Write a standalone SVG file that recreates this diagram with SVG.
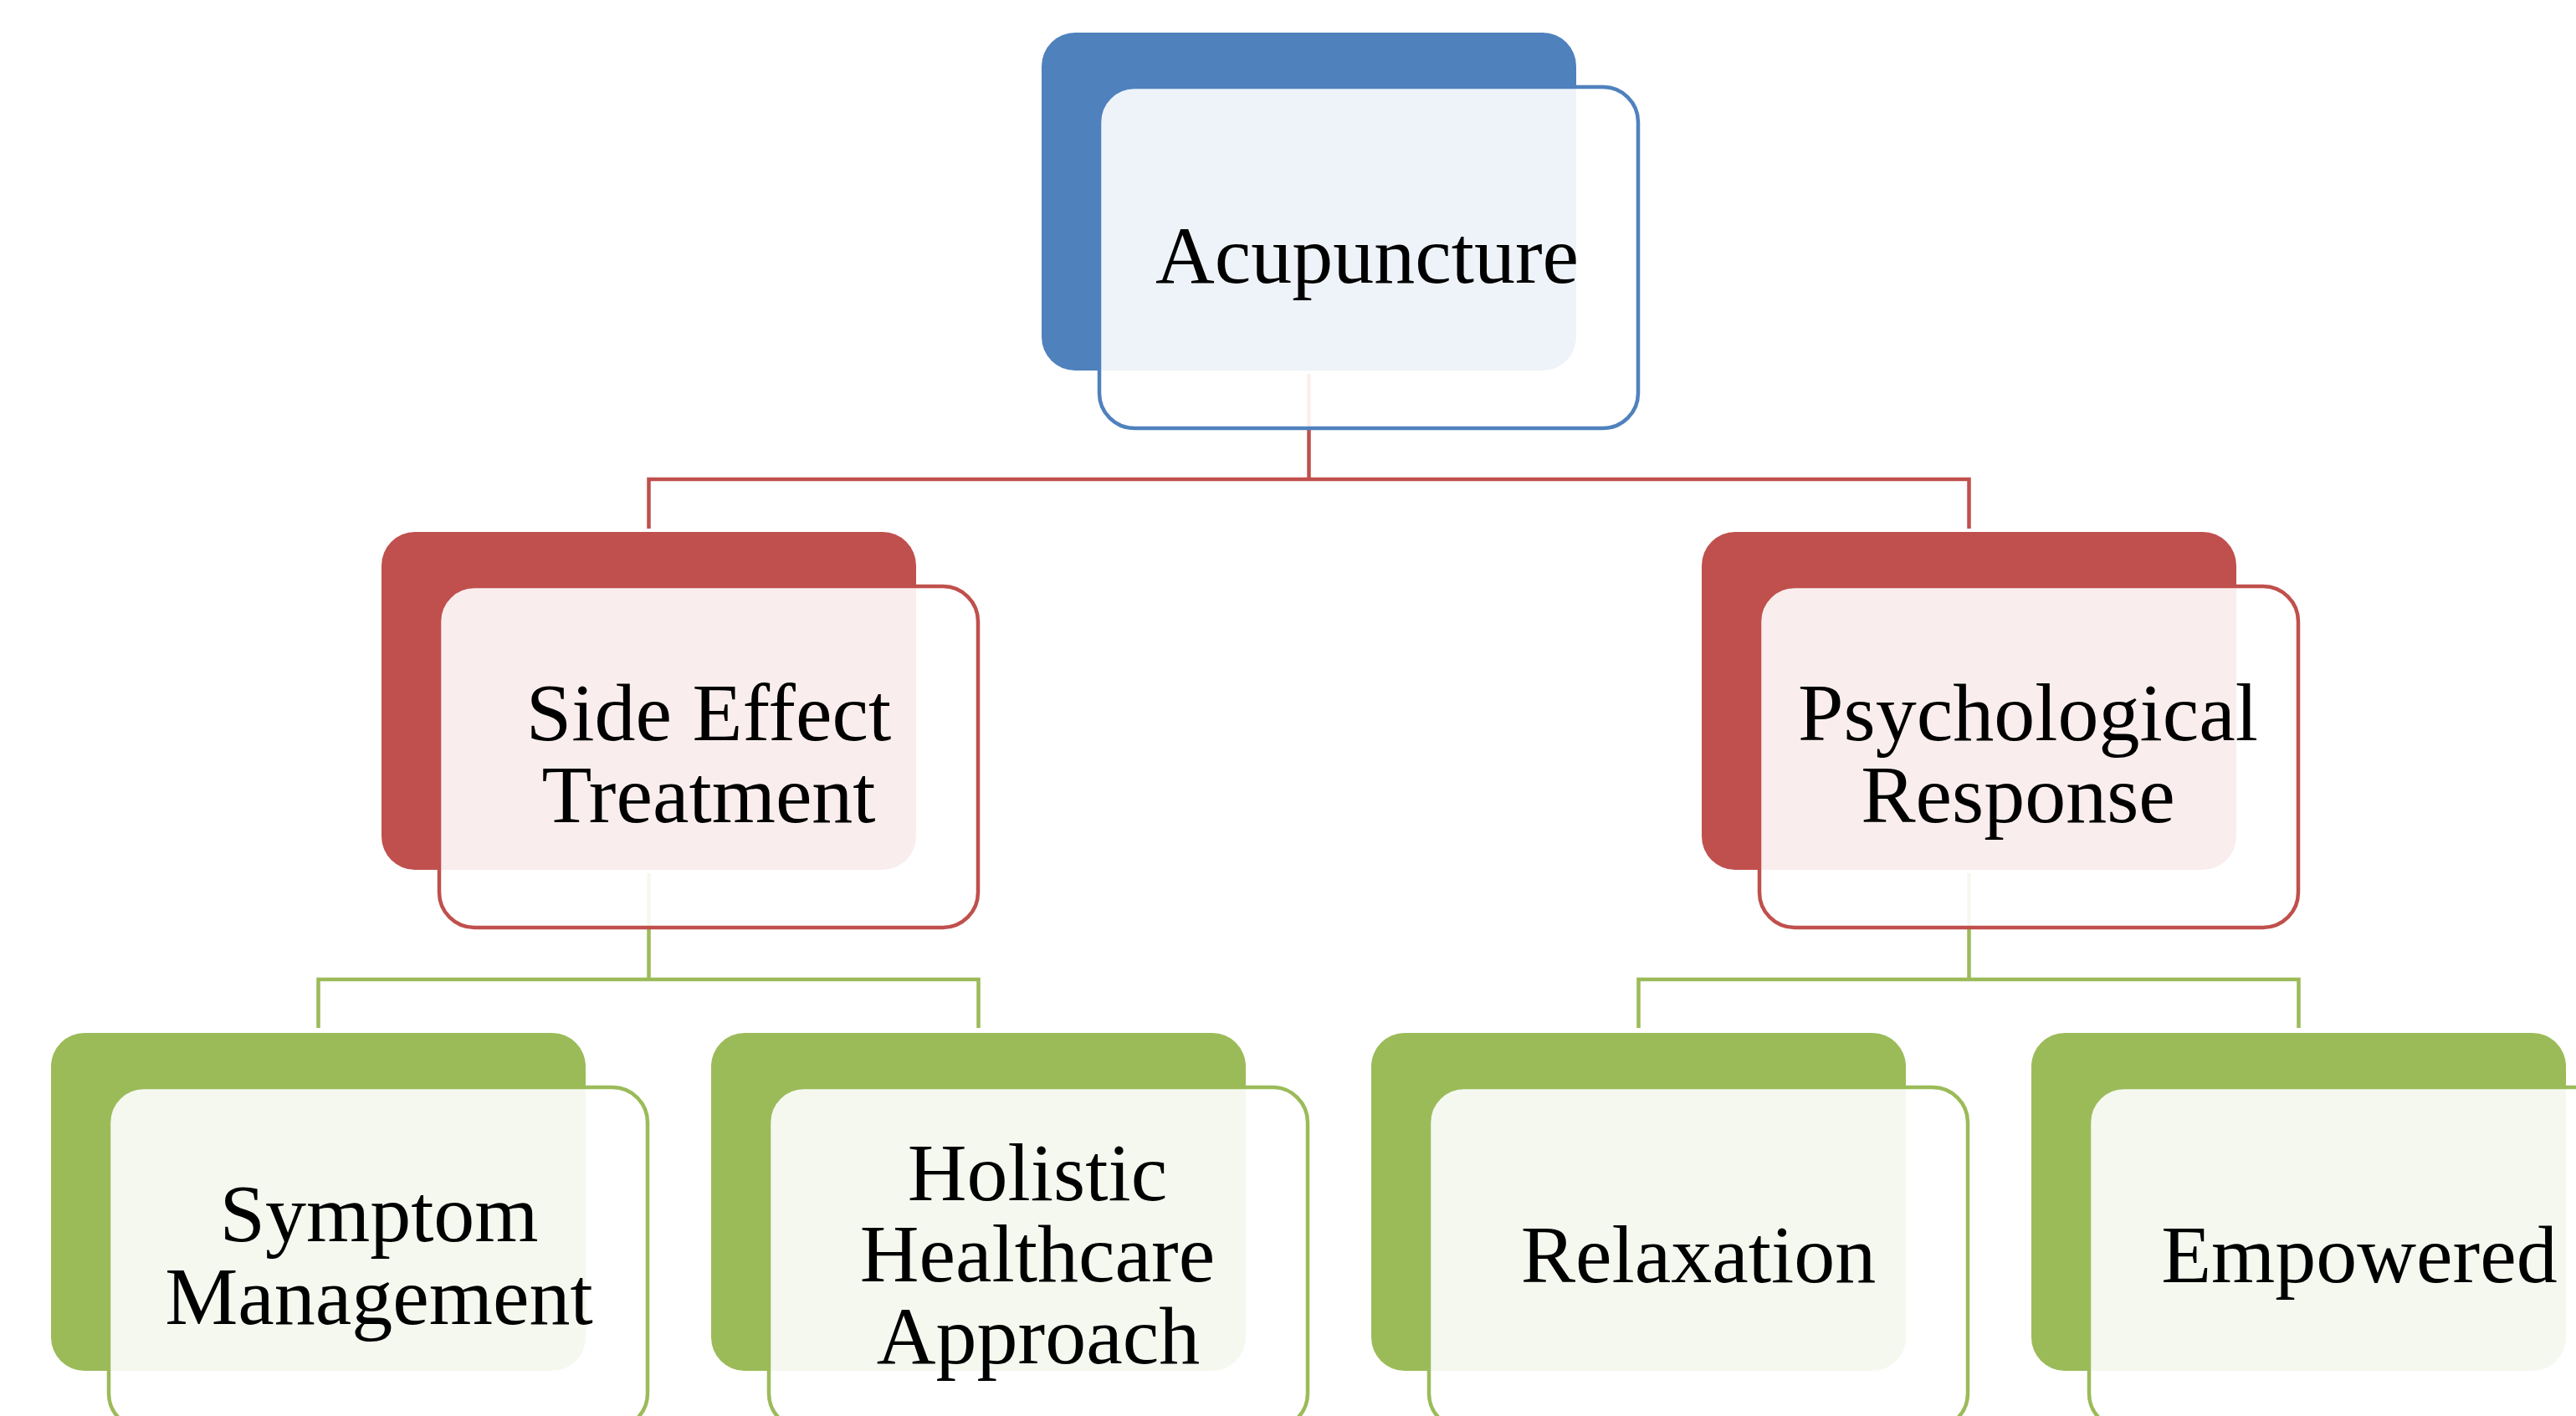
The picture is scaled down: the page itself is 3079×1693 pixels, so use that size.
<svg xmlns="http://www.w3.org/2000/svg" width="3079" height="1693" viewBox="0 0 3079 1693">
<style>
.bg{fill:#ffffff}
.back{stroke:none}
.front{fill:#ffffff;fill-opacity:0.9;stroke-width:4.5}
.blue .back{fill:#4F81BD}.blue .front{stroke:#4F81BD}
.red .back{fill:#C0504D}.red .front{stroke:#C0504D}
.green .back{fill:#9BBB59}.green .front{stroke:#9BBB59}
.lbl{font-family:"Liberation Serif","Times New Roman",serif;font-size:98px;fill:#000000;text-anchor:middle}
.conn{fill:none;stroke-width:4.5;stroke-linejoin:miter}
</style>
<rect class="bg" x="0" y="0" width="3079" height="1693"/>
<g id="connectors">
<path class="conn" stroke="#C0504D" d="M1564.5,447 V573 M775.5,632 V573 H2353.5 V632"/>
<path class="conn" stroke="#9BBB59" d="M775.5,1044 V1171 M380.5,1229 V1171 H1169.5 V1229"/>
<path class="conn" stroke="#9BBB59" d="M2353.5,1044 V1171 M1958.5,1229 V1171 H2747.5 V1229"/>
</g>
<g id="node-acupuncture" class="blue">
<rect class="back" x="1245" y="39" width="639" height="404" rx="40"/>
<rect class="front" x="1314" y="104" width="644" height="408" rx="42"/>
<text class="lbl" x="1634" y="338">Acupuncture</text>
</g>
<g id="node-side-effect" class="red">
<rect class="back" x="456" y="636" width="639" height="404" rx="40"/>
<rect class="front" x="525" y="701" width="644" height="408" rx="42"/>
<text class="lbl" x="847" y="885">Side Effect</text>
<text class="lbl" x="847" y="983">Treatment</text>
</g>
<g id="node-psychological" class="red">
<rect class="back" x="2034" y="636" width="639" height="404" rx="40"/>
<rect class="front" x="2103" y="701" width="644" height="408" rx="42"/>
<text class="lbl" x="2424" y="885">Psychological</text>
<text class="lbl" x="2412" y="983">Response</text>
</g>
<g id="node-symptom" class="green">
<rect class="back" x="61" y="1235" width="639" height="404" rx="40"/>
<rect class="front" x="130" y="1300" width="644" height="408" rx="42"/>
<text class="lbl" x="453" y="1484">Symptom</text>
<text class="lbl" x="453" y="1583">Management</text>
</g>
<g id="node-holistic" class="green">
<rect class="back" x="850" y="1235" width="639" height="404" rx="40"/>
<rect class="front" x="919" y="1300" width="644" height="408" rx="42"/>
<text class="lbl" x="1240" y="1435">Holistic</text>
<text class="lbl" x="1240" y="1532">Healthcare</text>
<text class="lbl" x="1241" y="1630">Approach</text>
</g>
<g id="node-relaxation" class="green">
<rect class="back" x="1639" y="1235" width="639" height="404" rx="40"/>
<rect class="front" x="1708" y="1300" width="644" height="408" rx="42"/>
<text class="lbl" x="2030" y="1533">Relaxation</text>
</g>
<g id="node-empowered" class="green">
<rect class="back" x="2428" y="1235" width="639" height="404" rx="40"/>
<rect class="front" x="2497" y="1300" width="644" height="408" rx="42"/>
<text class="lbl" x="2820" y="1533">Empowered</text>
</g>
</svg>
